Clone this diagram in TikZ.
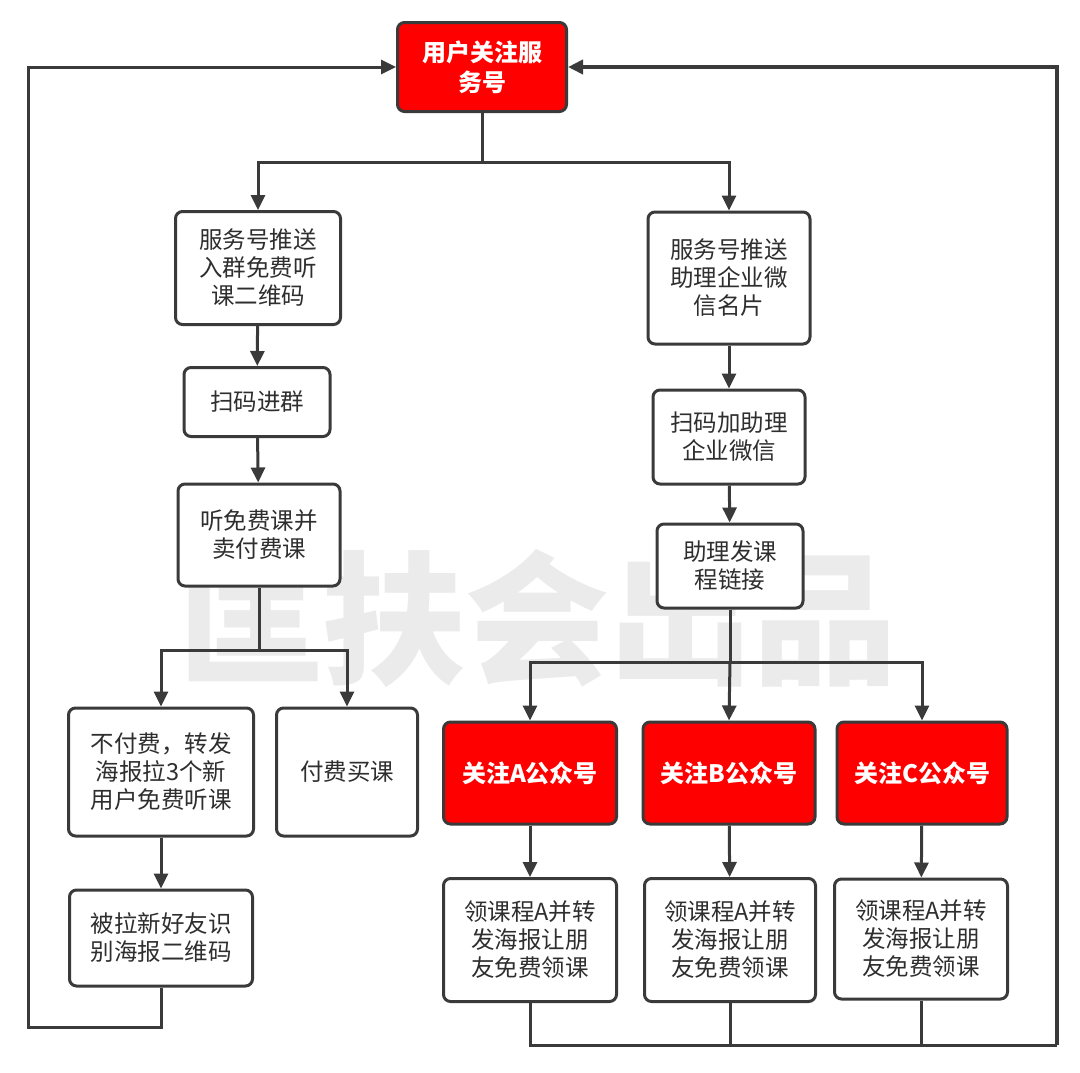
\documentclass[tikz,border=0pt]{standalone}
\usepackage{fontspec}
\setmainfont{Liberation Sans}
\newfontfamily\cjk{Noto Sans CJK SC}
\usetikzlibrary{arrows.meta}
\definecolor{linegray}{HTML}{3A3A3A}
\definecolor{textgray}{HTML}{2E2E2E}
\definecolor{boxred}{HTML}{FF0000}
\definecolor{markgray}{HTML}{EBEBEB}

\tikzset{
  box/.style={draw=linegray, line width=3pt, rounded corners=7pt, fill=white,
    align=center, inner sep=0pt, text=textgray,
    font=\cjk\fontsize{23.5}{28}\selectfont},
  redbox/.style={box, fill=boxred, text=white,
    font=\cjk\bfseries\fontsize{24}{30}\selectfont},
  wire/.style={draw=linegray, line width=3pt},
  link/.style={wire, -{Triangle[length=15pt,width=14pt]}},
}

\begin{document}
\begin{tikzpicture}[x=1pt,y=-1pt]
\useasboundingbox (0,0) rectangle (1080,1072);
% watermark
\node[text=markgray, font=\cjk\bfseries\fontsize{144}{144}\selectfont] (mark) at (538,618) {匡扶会出品};

% top
\node[redbox, minimum width=169, minimum height=89] (follow) at (482,67) {用户关注服\\务号};

% left branch
\node[box, minimum width=165, minimum height=113] (grouppush) at (258,268) {服务号推送\\入群免费听\\课二维码};
\node[box, minimum width=146, minimum height=69] (joingroup) at (257,402) {扫码进群};
\node[box, minimum width=162, minimum height=102] (freeclass) at (259,535) {听免费课并\\卖付费课};
\node[box, minimum width=185, minimum height=128] (share) at (161,772) {不付费，转发\\海报拉3个新\\用户免费听课};
\node[box, minimum width=141, minimum height=128] (buy) at (347,772) {付费买课};
\node[box, minimum width=183, minimum height=96] (invite) at (161,938) {被拉新好友识\\别海报二维码};

% right branch
\node[box, minimum width=162, minimum height=132] (cardpush) at (729,278) {服务号推送\\助理企业微\\信名片};
\node[box, minimum width=152, minimum height=94] (addwx) at (729,437) {扫码加助理\\企业微信};
\node[box, minimum width=146, minimum height=84] (sendlink) at (730,566) {助理发课\\程链接};
\node[redbox, minimum width=173, minimum height=102] (pubA) at (530,773) {关注A公众号};
\node[redbox, minimum width=172, minimum height=102] (pubB) at (729,773) {关注B公众号};
\node[redbox, minimum width=170, minimum height=102] (pubC) at (922,773) {关注C公众号};
\node[box, minimum width=173, minimum height=123] (getA) at (530,940) {领课程A并转\\发海报让朋\\友免费领课};
\node[box, minimum width=171, minimum height=123] (getB) at (730,940) {领课程A并转\\发海报让朋\\友免费领课};
\node[box, minimum width=173, minimum height=120] (getC) at (921,939) {领课程A并转\\发海报让朋\\友免费领课};

% split points
\coordinate (topsplit) at (482,162);
\coordinate (leftsplit) at (259,650);
\coordinate (rightsplit) at (730,662);
\coordinate (loopL) at (28,1027);
\coordinate (loopR) at (1057,1045);

% connectors
\draw[wire] (follow.south) -- (topsplit);
\draw[link] (topsplit) -| (grouppush.north);
\draw[link] (topsplit) -| (cardpush.north);
\draw[link] (grouppush) -- (joingroup);
\draw[link] (joingroup) -- (freeclass);
\draw[wire] (freeclass.south) -- (leftsplit);
\draw[link] (leftsplit) -| (share.north);
\draw[link] (leftsplit) -| (buy.north);
\draw[link] (share) -- (invite);
\draw[link] (invite.south) |- (loopL) |- (follow.west);

\draw[link] (cardpush) -- (addwx);
\draw[link] (addwx) -- (sendlink);
\draw[wire] (sendlink.south) -- (rightsplit);
\draw[link] (rightsplit) -| (pubA.north);
\draw[link] (rightsplit) -- (pubB.north);
\draw[link] (rightsplit) -| (pubC.north);
\draw[link] (pubA) -- (getA);
\draw[link] (pubB) -- (getB);
\draw[link] (pubC) -- (getC);
\draw[wire] (getA.south) |- (loopR);
\draw[wire] (getB.south) -- (getB.south |- loopR);
\draw[wire] (getC.south) -- (getC.south |- loopR);
\draw[link, line width=3.8pt] (loopR) |- (follow.east);
\end{tikzpicture}
\end{document}
